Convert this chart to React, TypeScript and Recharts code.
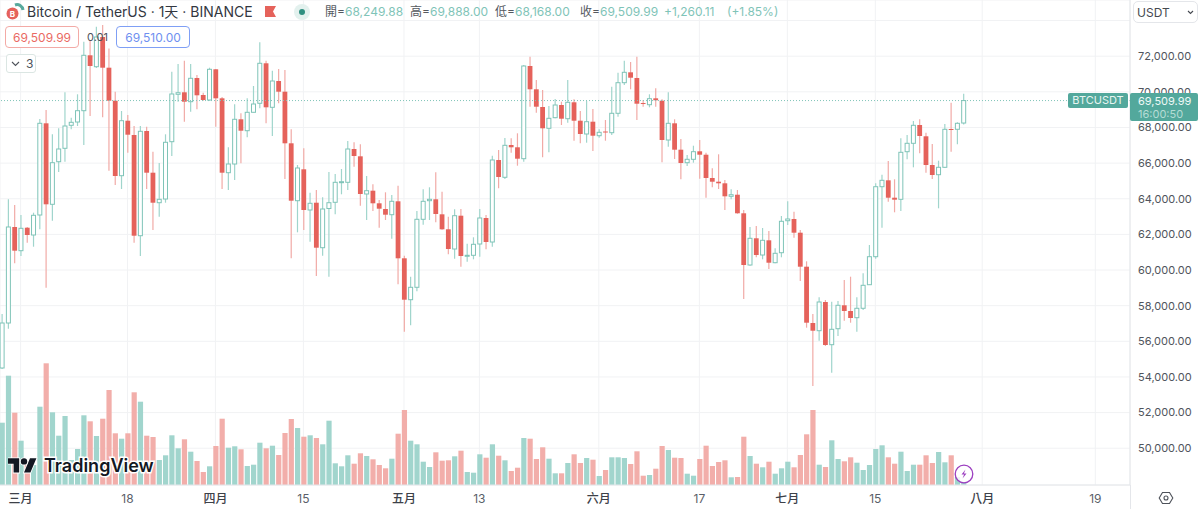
import React from "react";
import { ComposedChart, Bar, XAxis, YAxis, CartesianGrid, ReferenceLine } from "recharts";

// daily candles, 27 Feb to 29 Jul, one line per month
const opens = [
  54502, 57027, 62415,
  61085, 62375, 61966, 63088, 68234, 63689, 66079, 66831, 68122, 68307, 68942, 72051, 71411, 73078, 71355, 69503, 65294, 68380, 67578, 61926, 67802, 65462, 63778, 63986, 67202, 69862, 69974, 69447, 70777, 69823, 69542,
  71265, 69637, 65462, 65950, 68459, 67819, 68852, 69357, 71602, 69132, 70608, 70008, 67112, 63891, 65653, 63369, 63778, 61253, 63453, 63801, 64923, 64923, 66792, 66382, 64267, 64452, 63745, 63425, 63105, 63857,
  60658, 58335, 59031, 62847, 63891, 63969, 63127, 62286, 61180, 63049, 60787, 60827, 61461, 62920, 61573, 66175, 65204, 67017, 66888, 66248, 71450, 70143, 69149, 67954, 68549, 69261, 68492, 69413, 68380, 67634, 68324,
  67538, 67774, 67707, 68796, 70513, 71096, 70777, 69374, 69278, 69637, 69503, 67297, 68234, 66753, 66023, 66214, 66663, 66472, 65165, 64957, 64867, 64137, 64227, 63184, 60282, 61781, 60843, 61668, 60411, 60972,
  62768, 62864, 62095, 60187, 57027, 56595, 58206, 55810, 56707, 58021, 57701, 57325, 57853, 59176, 60748, 64676, 65035, 64059, 63969, 66641, 67112, 68139, 67505, 65894, 65350, 65765, 67915, 67898, 68249.88,
];
const highs = [
  57532, 63969, 63649,
  63088, 62415, 63217, 68476, 68981, 67617, 67954, 69974, 68549, 69862, 72814, 72909, 73656, 73751, 72432, 70008, 68925, 68700, 68083, 68083, 68044, 66641, 66006, 67617, 71130, 71562, 71748, 71562, 70945, 69952, 71355,
  71282, 69710, 66888, 69301, 68796, 69637, 70328, 72780, 71748, 71186, 71282, 71226, 67898, 65894, 66831, 64340, 64491, 64082, 65501, 65389, 65670, 67241, 67168, 67056, 65277, 64811, 63930, 64362, 64210, 64732,
  60804, 59626, 63313, 64530, 64643, 65485, 64396, 62993, 63408, 63425, 61477, 61837, 63425, 63088, 66416, 66736, 67409, 67393, 67673, 71506, 71972, 70664, 70103, 69205, 69598, 69447, 70664, 69581, 68925, 69486, 69037,
  67898, 68420, 70288, 71074, 71748, 71675, 71972, 69542, 69862, 70198, 69581, 69974, 68459, 67353, 66455, 66977, 67297, 66584, 65709, 66495, 65052, 64530, 64491, 63369, 62415, 62471, 62359, 62190, 61219, 63032,
  63857, 63273, 62246, 60490, 57532, 58470, 58318, 58223, 58262, 59440, 59626, 58470, 59816, 61405, 64867, 65350, 66119, 65092, 67393, 67578, 68364, 68459, 67707, 67073, 66136, 68195, 69390, 68290, 69888,
];
const lows = [
  54446, 56707, 60378,
  60787, 61534, 61309, 62286, 59008, 62768, 65501, 66079, 67898, 68083, 67017, 68644, 71338, 68571, 65574, 64772, 64547, 66584, 61534, 60787, 64547, 62246, 62993, 63778, 66399, 69447, 68324, 68885, 69020, 69503, 69503,
  68044, 64547, 64491, 65052, 65990, 67449, 68841, 69076, 68234, 67522, 69357, 65108, 60658, 62117, 62246, 61590, 59665, 60804, 59626, 63127, 64250, 64491, 65799, 63610, 62808, 63313, 62376, 62808, 61758, 59199,
  56539, 56898, 58806, 62544, 62808, 62678, 62263, 60883, 60636, 60186, 60467, 60602, 60748, 61164, 61309, 64587, 65108, 66584, 65855, 66079, 69166, 68829, 66326, 66607, 68515, 68139, 68268, 67258, 67112, 67146, 66680,
  67426, 67258, 67578, 68605, 70384, 70143, 68420, 69166, 69132, 69166, 66046, 66921, 66231, 65092, 65838, 66023, 65125, 64059, 64643, 64547, 63369, 63969, 63161, 58374, 60243, 60715, 60602, 60058, 60378, 60715,
  62527, 61814, 59384, 56764, 53492, 56034, 55737, 54238, 56298, 57157, 57044, 56539, 57757, 59160, 60636, 62376, 63835, 63240, 63313, 66214, 65765, 66551, 65462, 65108, 63464, 65743, 66641, 67056, 68168,
];
const closes = [
  57027, 62415, 61085,
  62342, 61966, 63071, 68234, 63689, 66023, 66792, 68083, 68290, 68942, 72051, 71450, 73078, 71355, 69503, 65277, 68380, 67595, 61926, 67785, 65462, 63778, 63969, 67168, 69879, 69952, 69447, 70760, 69806, 69542, 71265,
  69637, 65462, 65950, 68459, 67819, 68852, 69317, 71602, 69132, 70608, 70008, 67112, 63891, 65726, 63369, 63745, 61253, 63425, 63778, 64923, 64957, 66792, 66399, 64267, 64452, 63745, 63442, 63105, 63857, 60658,
  58335, 59031, 62847, 63857, 63969, 63144, 62286, 61180, 63049, 60787, 60827, 61444, 62920, 61573, 66175, 65221, 66999, 66888, 66248, 71450, 70143, 69166, 67954, 68515, 69261, 68492, 69413, 68380, 67634, 68324, 67538,
  67729, 67746, 68796, 70513, 71096, 70793, 69334, 69317, 69615, 69525, 67297, 68234, 66753, 66006, 66214, 66641, 66472, 65165, 64957, 64867, 64137, 64227, 63184, 60282, 61781, 60843, 61668, 60411, 60939, 62735,
  62864, 62095, 60187, 57044, 56595, 58206, 55793, 56674, 58021, 57701, 57308, 57853, 59143, 60748, 64676, 65035, 64059, 63947, 66607, 67112, 68122, 67522, 65894, 65333, 65765, 67898, 67875, 68234, 69509.99,
];
// volume in thousands
const volumes = [
  62.3, 109.3, 72.3,
  44.3, 24, 20, 78.3, 121.7, 72.7, 49.3, 69, 25, 36, 69.7, 63.7, 49, 66.3, 95, 51.7, 46.3, 51.7, 92.7, 83.3, 49.3, 48, 25, 29.7, 49.7, 36.7, 45.7, 33.3, 24, 13, 18.7,
  39, 66.3, 37.3, 38.7, 35.7, 19, 20.3, 42.3, 36.7, 39.3, 30, 52, 66, 57, 48.3, 49.7, 47, 40.7, 64.3, 21.7, 18.7, 29.7, 21.3, 31.7, 29, 25.7, 20, 16.7, 26.3, 51.3,
  75, 44.3, 40.7, 23.3, 18, 32.7, 24.3, 24.7, 28.7, 34.3, 13, 12.3, 30.7, 27.3, 40.7, 29.3, 24.7, 14, 17.3, 47, 46.3, 26, 37.7, 26.3, 11.7, 11.7, 22, 30.7, 22, 27, 25.3,
  9, 15, 27.7, 27.7, 27, 21, 33.7, 9.3, 10, 16.3, 39, 35, 27.3, 27, 11.3, 9.3, 26, 39.3, 19, 23, 24.7, 7.7, 8, 48.3, 29, 21.3, 17.7, 23.3, 11.3, 16.7,
  23.3, 17.7, 30, 50.7, 75, 20.3, 18, 44.7, 26, 23.7, 27.7, 22.3, 15, 20, 36, 39.7, 27.7, 21.3, 33.3, 14, 20.3, 20.3, 29.7, 22, 33, 22.7, 29.7, 8, 3,
];
const priceTicks = [50000, 52000, 54000, 56000, 58000, 60000, 62000, 64000, 66000, 68000, 70000, 72000, 74000];
const dayTicks = [0, 17, 31, 45, 61, 73, 92, 108, 122, 136, 153, 171];
const dayLabels = ["三月", "18", "四月", "15", "五月", "13", "六月", "17", "七月", "15", "八月", "19"];
const lastPrice = 69509.99;

const data = closes.map((close, i) => ({
  day: i - 3,
  open: opens[i],
  high: highs[i],
  low: lows[i],
  close,
  volume: volumes[i],
}));

const GREEN_LINE = "#7fc4b8";
const GREEN_WICK = "#a0d5cc";
const RED_BODY = "#e5625b";
const RED_WICK = "#f1aaa6";
const FONT = "Inter, 'Noto Sans CJK TC', sans-serif";

const Candle = (props: any) => {
  const { x, y, width, height, payload } = props;
  const top = Math.min(y, y + height);
  const h = Math.abs(height);
  const perUnit = h / (payload.high - payload.low);
  const cx = x + width / 2;
  const up = payload.close >= payload.open;
  const yOpen = top + (payload.high - payload.open) * perUnit;
  const yClose = top + (payload.high - payload.close) * perUnit;
  const bodyTop = Math.min(yOpen, yClose);
  const bodyH = Math.max(Math.abs(yOpen - yClose), 1);
  return (
    <g>
      <line x1={cx} x2={cx} y1={top} y2={top + h} stroke={up ? GREEN_WICK : RED_WICK} strokeWidth={1.2} />
      {up ? (
        <rect x={cx - 2} y={bodyTop} width={4} height={bodyH} fill="#fff" stroke={GREEN_LINE} strokeWidth={1} />
      ) : (
        <rect x={cx - 2.4} y={bodyTop} width={4.8} height={bodyH} fill={RED_BODY} />
      )}
    </g>
  );
};

const VolumeBar = (props: any) => {
  const { x, y, width, height, payload } = props;
  const up = payload.close >= payload.open;
  return <rect x={x} y={y} width={width} height={height} fill={up ? "#a1d5cd" : "#f2aeaa"} />;
};

const DayTick = (props: any) => {
  const { x, y, index } = props;
  const label = dayLabels[index];
  const isMonth = label.endsWith("月");
  return (
    <text x={x} y={y + 10} textAnchor="middle" fontSize={12} fontFamily={FONT} fontWeight={isMonth ? 500 : 400} fill={isMonth ? "#3d4149" : "#5a5f69"}>
      {label}
    </text>
  );
};

const abs = (left: number, top: number, extra: React.CSSProperties = {}): React.CSSProperties => ({
  position: "absolute",
  left,
  top,
  whiteSpace: "nowrap",
  lineHeight: 1,
  ...extra,
});

const OHLC_COLOR = "#7fc4b8";

const Header = () => (
  <div style={{ position: "absolute", inset: 0, fontFamily: FONT, pointerEvents: "none" }}>
    <svg width={30} height={22} style={abs(4, 1)}>
      <circle cx={8.5} cy={12.5} r={6} fill="#e5625b" />
      <text x={8.5} y={15.5} fontSize={8} fontWeight={700} textAnchor="middle" fill="#fff" fontFamily={FONT}>B</text>
      <path d="M11 4a6 6 0 0 1 8 5" fill="none" stroke="#57a99d" strokeWidth={3} />
    </svg>
    <div style={abs(27, 5, { fontSize: 14, color: "#33373f" })}>Bitcoin / TetherUS · 1天 · BINANCE</div>
    <svg width={14} height={14} style={abs(264, 5)}>
      <path d="M1 1h11l-3 5.5 3 5.5H1z" fill="#e5625b" />
    </svg>
    <svg width={18} height={18} style={abs(293, 3)}>
      <circle cx={9} cy={9} r={8} fill="#e3f1ee" />
      <circle cx={9} cy={9} r={3} fill="#2f8f80" />
    </svg>
    {[
      [325, "開", "68,249.88"],
      [410, "高", "69,888.00"],
      [495, "低", "68,168.00"],
      [580, "收", "69,509.99"],
    ].map(([left, name, value]) => (
      <div key={name as string} style={abs(left as number, 6, { fontSize: 12, color: "#55595f" })}>
        {name}=<span style={{ color: OHLC_COLOR }}>{value}</span>
      </div>
    ))}
    <div style={abs(664, 6, { fontSize: 12, color: OHLC_COLOR })}>+1,260.11</div>
    <div style={abs(727, 6, { fontSize: 12, color: OHLC_COLOR })}>(+1.85%)</div>

    <div style={abs(5, 26, { width: 74, height: 22, boxSizing: "border-box", border: "1px solid #f3aaa6", borderRadius: 4, background: "#fff", color: "#ea6a63", fontSize: 12, textAlign: "center", paddingTop: 4.5 })}>69,509.99</div>
    <div style={abs(87, 32, { fontSize: 11, color: "#4e525a" })}>0.01</div>
    <div style={abs(116, 26, { width: 74, height: 22, boxSizing: "border-box", border: "1px solid #7f9ff5", borderRadius: 4, background: "#fff", color: "#6f8ff0", fontSize: 12, textAlign: "center", paddingTop: 4.5 })}>69,510.00</div>
    <div style={abs(6, 54, { width: 30, height: 19, boxSizing: "border-box", border: "1px solid #dbe6e3", borderRadius: 3, background: "#fff", color: "#4e525a", fontSize: 12, paddingTop: 3, paddingLeft: 19 })}>3</div>
    <svg width={10} height={6} style={abs(11, 61)}>
      <path d="M1 1l3.5 3.5L8 1" fill="none" stroke="#4e525a" strokeWidth={1.1} />
    </svg>

    <div style={abs(1133, 1, { width: 65, height: 22, boxSizing: "border-box", border: "1px solid #e4e6ea", borderRadius: 5, background: "#fff", color: "#454950", fontSize: 12, paddingTop: 4.5, paddingLeft: 3 })}>USDT</div>
    <svg width={8} height={6} style={abs(1187, 10)}>
      <path d="M1 1l2.5 2.5L6 1" fill="none" stroke="#454950" strokeWidth={1.1} />
    </svg>

    <div style={abs(1068, 93, { width: 60, height: 15, background: "#53a89c", borderRadius: 2, color: "#e8f5f2", fontSize: 11, textAlign: "center", paddingTop: 2, boxSizing: "border-box" })}>BTCUSDT</div>
    <div style={abs(1130, 93, { width: 68, height: 28, background: "#53a89c", borderRadius: 2, boxSizing: "border-box", paddingLeft: 8, paddingTop: 1.5 })}>
      <div style={{ color: "#eef8f6", fontSize: 11, lineHeight: "13px" }}>69,509.99</div>
      <div style={{ color: "#b5dcd5", fontSize: 11, lineHeight: "13px" }}>16:00:50</div>
    </div>

    {/* watermark */}
    <svg width={150} height={26} style={abs(8, 455)}>
      <g transform="scale(0.8)" fill="#131722" stroke="#fff" strokeWidth={2} paintOrder="stroke">
        <path d="M14 22H7V11H0V4h14v18zM28 22h-8l7.5-18h8L28 22z" />
        <circle cx={20} cy={8} r={4} />
      </g>
    </svg>
    <svg width={130} height={30} style={abs(40, 452)}>
      <text x={4} y={20} fontSize={18} fontWeight={600} fill="#131722" stroke="#fff" strokeWidth={3} paintOrder="stroke" fontFamily={FONT}>TradingView</text>
    </svg>

    <svg width={22} height={22} style={abs(953, 463)}>
      <circle cx={11} cy={11} r={8.8} fill="#ffffffcc" stroke="#9c3fc0" strokeWidth={1.3} />
      <path d="M12.5 6.5l-4 5h2.6l-1.6 4 4-5h-2.6z" fill="#9c3fc0" />
    </svg>

    <div style={{ position: "absolute", left: 1130, top: 485, width: 1, height: 24, background: "#e4e6ea" }} />
    <svg width={18} height={18} style={abs(1157, 489)}>
      <path d="M5.5 3.5h7l3.3 5.5-3.3 5.5h-7L2.2 9z" fill="none" stroke="#4e525a" strokeWidth={1.1} />
      <circle cx={9} cy={9} r={2} fill="none" stroke="#4e525a" strokeWidth={1.1} />
    </svg>
  </div>
);

export default function App() {
  return (
    <div style={{ position: "absolute", left: 0, top: 0, width: 1200, height: 509, overflow: "hidden", background: "#fff" }}>
      <ComposedChart width={1200} height={509} data={data} margin={{ top: 0, right: 0, bottom: 0, left: 0 }}>
        <CartesianGrid xAxisId="x" yAxisId="price" stroke="#f1f2f4" />
        <XAxis
          xAxisId="x"
          dataKey="day"
          type="number"
          domain={[-3.278, 176.52]}
          allowDataOverflow
          ticks={dayTicks}
          interval={0}
          height={24}
          stroke="#e4e6ea"
          tickLine={false}
          tick={<DayTick />}
        />
        <XAxis xAxisId="xv" dataKey="day" type="number" domain={[-3.278, 176.52]} allowDataOverflow hide height={0} />
        <YAxis
          yAxisId="price"
          orientation="right"
          width={70}
          domain={[47936, 75154]}
          allowDataOverflow
          ticks={priceTicks}
          interval={0}
          stroke="#e4e6ea"
          tickLine={false}
          tickSize={0}
          tickMargin={8}
          tick={{ fontSize: 11, fontFamily: FONT, fill: "#50545c" }}
          tickFormatter={(v: number) => (v === 74000 ? "" : v.toLocaleString("en-US", { minimumFractionDigits: 2 }))}
        />
        <YAxis yAxisId="volume" hide domain={[0, 485]} allowDataOverflow />
        <Bar xAxisId="xv" yAxisId="volume" dataKey="volume" barSize={5.2} shape={<VolumeBar />} isAnimationActive={false} />
        <ReferenceLine xAxisId="x" yAxisId="price" y={lastPrice} stroke="#7fc4b8" strokeDasharray="1 2" />
        <Bar xAxisId="x" yAxisId="price" dataKey={(d: any) => [d.low, d.high]} barSize={5} shape={<Candle />} isAnimationActive={false} />
      </ComposedChart>
      <Header />
    </div>
  );
}
